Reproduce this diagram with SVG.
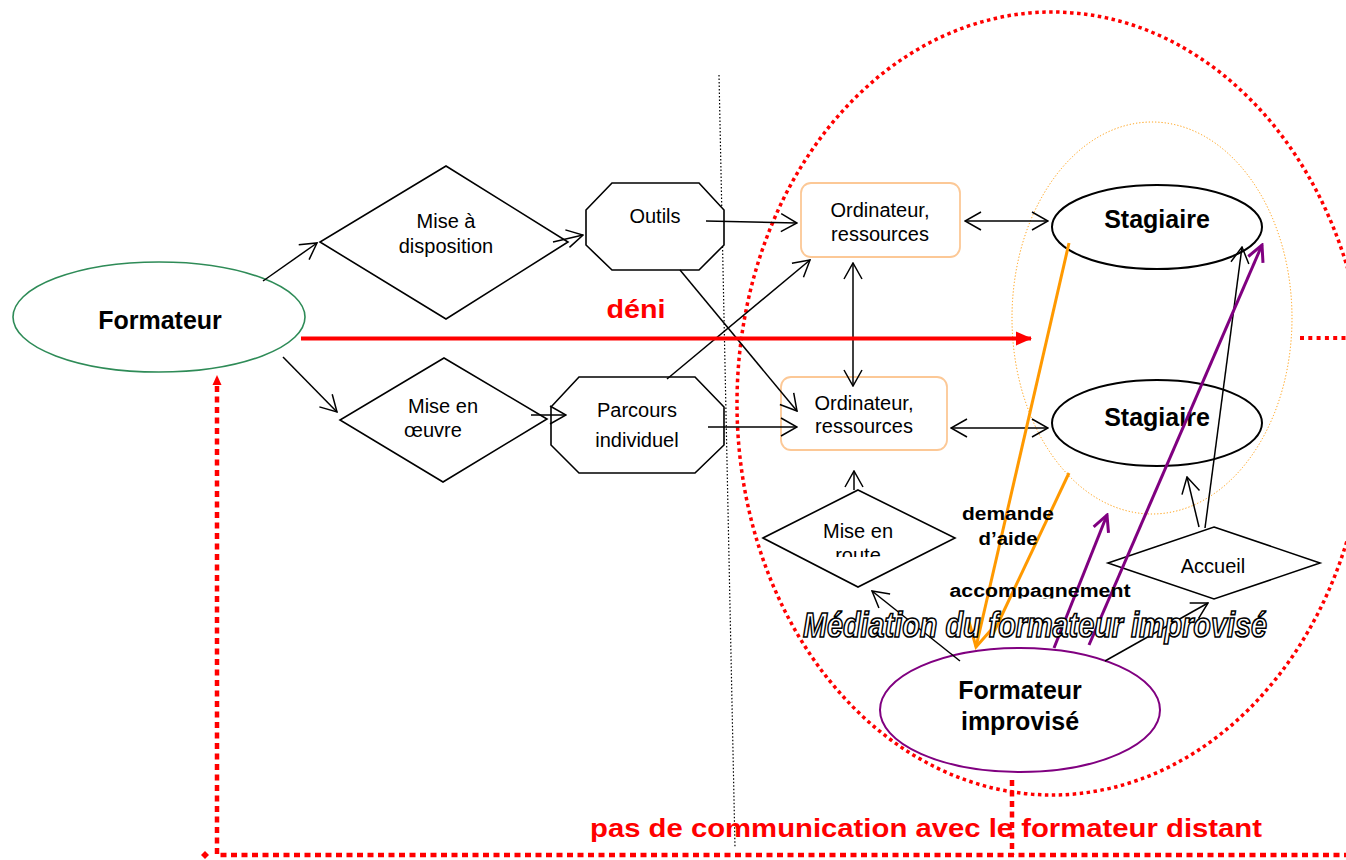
<svg xmlns="http://www.w3.org/2000/svg" width="1346" height="860" viewBox="0 0 1346 860">
<style>
.t{font-family:"Liberation Sans",Arial,sans-serif;font-size:20px;text-anchor:middle;fill:#000}
.b{font-family:"Liberation Sans",Arial,sans-serif;font-size:25px;font-weight:bold;text-anchor:middle;fill:#000}
.lbl{font-family:"Liberation Sans",Arial,sans-serif;font-size:18px;font-weight:bold;text-anchor:middle;fill:#000}
.red{font-family:"Liberation Sans",Arial,sans-serif;font-weight:bold;fill:#ff0000}
.shape{fill:#fff;stroke:#000;stroke-width:1.6}
.box{fill:#fff;stroke:#fcc896;stroke-width:1.8}
.ln{fill:none;stroke:#000;stroke-width:1.5}
.ln2{fill:none;stroke:#000;stroke-width:1.5;marker-end:url(#ah);marker-start:url(#ah)}
.lnA{fill:none;stroke:#000;stroke-width:1.5;marker-end:url(#ah)}
.pur{fill:none;stroke:#800080;stroke-width:3}
.ora{fill:none;stroke:#ff9900;stroke-width:3}
.rdot{fill:none;stroke:#ff0000;stroke-width:4.5;stroke-dasharray:6 4.5}
</style>
<defs>
<marker id="ah" markerUnits="userSpaceOnUse" viewBox="0 0 18 20" markerWidth="18" markerHeight="20" refX="17" refY="10" orient="auto-start-reverse">
<path d="M1,1 L17,10 L1,19" fill="none" stroke="#000" stroke-width="1.5"/>
</marker>
<marker id="ahP" markerUnits="userSpaceOnUse" viewBox="0 0 20 20" markerWidth="20" markerHeight="20" refX="18" refY="10" orient="auto">
<path d="M2,2 L18,10 L2,18" fill="none" stroke="#800080" stroke-width="3"/>
</marker>
<marker id="ahO" markerUnits="userSpaceOnUse" viewBox="0 0 30 30" markerWidth="30" markerHeight="30" refX="27" refY="15" orient="auto">
<path d="M3,2 L27,15 L3,28" fill="none" stroke="#ff9900" stroke-width="3"/>
</marker>
<marker id="ahR" markerUnits="userSpaceOnUse" viewBox="0 0 16 16" markerWidth="16" markerHeight="16" refX="15" refY="8" orient="auto">
<path d="M0,1 L16,8 L0,15 Z" fill="#ff0000"/>
</marker>
<clipPath id="clipRoute"><rect x="800" y="500" width="120" height="57"/></clipPath>
<clipPath id="clipAcc"><rect x="900" y="560" width="260" height="38.5"/></clipPath>
</defs>
<rect width="1346" height="860" fill="#fff"/>

<!-- background zones -->
<g id="zone-mediation">
<ellipse cx="1052" cy="403.5" rx="315" ry="391.5" fill="none" stroke="#ff0000" stroke-width="3.5" stroke-dasharray="3.5 3.5"/>
</g>
<g id="zone-stagiaires">
<ellipse cx="1152" cy="318" rx="140" ry="196" fill="none" stroke="#ff9900" stroke-width="1" stroke-dasharray="1.2 2"/>
</g>
<g id="divider">
<line x1="719" y1="75" x2="735" y2="848" stroke="#000" stroke-width="1.2" stroke-dasharray="1.5 2"/>
</g>

<!-- nodes -->
<g id="formateur">
<ellipse cx="159" cy="317" rx="146" ry="55" fill="#fff" stroke="#2e8b57" stroke-width="1.6"/>
<text class="b" x="160" y="329">Formateur</text>
</g>
<g id="mise-a-disposition">
<polygon class="shape" points="446,166 568,242 446,319 320,242"/>
<text class="t" x="446" y="228">Mise à</text>
<text class="t" x="446" y="253">disposition</text>
</g>
<g id="outils">
<polygon class="shape" points="612,183 699,183 724,210 724,245 699,270 612,270 586,245 586,210"/>
<text class="t" x="655" y="223">Outils</text>
</g>
<g id="mise-en-oeuvre">
<polygon class="shape" points="444,358 547,419 443,482 340,420"/>
<text class="t" x="443" y="413">Mise en</text>
<text class="t" x="433" y="437">œuvre</text>
</g>
<g id="parcours">
<polygon class="shape" points="579,377 695,377 724,407 724,445 695,473 579,473 551,445 551,407"/>
<text class="t" x="637" y="417">Parcours</text>
<text class="t" x="637" y="447">individuel</text>
</g>
<g id="ordinateur-1">
<rect class="box" x="801" y="183" width="159" height="74" rx="10"/>
<text class="t" x="880" y="217">Ordinateur,</text>
<text class="t" x="880" y="241">ressources</text>
</g>
<g id="ordinateur-2">
<rect class="box" x="781" y="377" width="166" height="73" rx="10"/>
<text class="t" x="864" y="410">Ordinateur,</text>
<text class="t" x="864" y="433">ressources</text>
</g>
<g id="stagiaire-1">
<ellipse cx="1157" cy="227" rx="105" ry="42" fill="#fff" stroke="#000" stroke-width="2"/>
<text class="b" x="1157" y="228">Stagiaire</text>
</g>
<g id="stagiaire-2">
<ellipse cx="1157" cy="423" rx="105" ry="43" fill="#fff" stroke="#000" stroke-width="2"/>
<text class="b" x="1157" y="426">Stagiaire</text>
</g>
<g id="mise-en-route">
<polygon class="shape" points="858,490 955,538 858,587 763,538"/>
<text class="t" x="858" y="538">Mise en</text>
<text class="t" x="858" y="562" clip-path="url(#clipRoute)">route</text>
</g>
<g id="accueil">
<polygon class="shape" points="1214,527 1320,563 1214,599 1108,563"/>
<text class="t" x="1213" y="573">Accueil</text>
</g>
<g id="formateur-improvise">
<ellipse cx="1020" cy="710" rx="140" ry="62" fill="#fff" stroke="#800080" stroke-width="2"/>
<text class="b" x="1020" y="699">Formateur</text>
<text class="b" x="1020" y="730">improvisé</text>
</g>

<!-- connectors -->
<g id="connectors">
<line class="lnA" x1="263" y1="281" x2="317" y2="243"/>
<line class="lnA" x1="553" y1="242" x2="583" y2="235"/>
<line class="lnA" x1="283" y1="357" x2="337" y2="412"/>
<line class="lnA" x1="531" y1="415" x2="566" y2="415"/>
<line class="lnA" x1="706" y1="221" x2="797" y2="223"/>
<line class="lnA" x1="680" y1="270" x2="797" y2="411"/>
<line class="lnA" x1="667" y1="379" x2="810" y2="260"/>
<line class="lnA" x1="708" y1="427" x2="797" y2="427"/>
<line class="ln2" x1="853" y1="263" x2="853" y2="386"/>
<line class="ln2" x1="965" y1="221" x2="1048" y2="221"/>
<line class="ln2" x1="951" y1="428" x2="1048" y2="428"/>
<line class="lnA" x1="854" y1="490" x2="854" y2="471"/>
<line class="lnA" x1="960" y1="661" x2="872" y2="591"/>
<line class="lnA" x1="1105" y1="661" x2="1208" y2="603"/>
<line class="lnA" x1="1199" y1="527" x2="1187" y2="477"/>
<line class="lnA" x1="1205" y1="528" x2="1242" y2="247"/>
<line class="ora" x1="1069" y1="243" x2="976" y2="647" marker-end="url(#ahO)"/>
<line class="ora" x1="1069" y1="473" x2="992" y2="636"/>
<line class="pur" x1="1054" y1="648" x2="1107" y2="515" marker-end="url(#ahP)"/>
<line class="pur" x1="1089" y1="645" x2="1262" y2="245" marker-end="url(#ahP)"/>
<line x1="301" y1="338.5" x2="1031" y2="338.5" stroke="#ff0000" stroke-width="4" marker-end="url(#ahR)"/>
<line x1="1300" y1="338" x2="1346" y2="338" stroke="#ff0000" stroke-width="4" stroke-dasharray="4 4.3"/>
<path class="rdot" d="M217,386 L217,855 L1346,855"/>
<polygon points="217,375 212.5,385 221.5,385" fill="#ff0000"/>
<polygon points="205,851 209,855 205,859 201,855" fill="#ff0000"/>
<line class="rdot" x1="1012" y1="780" x2="1012" y2="855"/>
<text class="red" x="636" y="318" font-size="26" text-anchor="middle" textLength="59" lengthAdjust="spacingAndGlyphs">déni</text>
<text class="lbl" x="1008" y="520" textLength="92" lengthAdjust="spacingAndGlyphs">demande</text>
<text class="lbl" x="1008" y="545" textLength="59" lengthAdjust="spacingAndGlyphs">d’aide</text>
<text class="lbl" x="1040" y="597" textLength="181" lengthAdjust="spacingAndGlyphs" clip-path="url(#clipAcc)">accompagnement</text>
<text x="803" y="637" font-family="'Liberation Sans',Arial,sans-serif" font-size="35" font-weight="bold" font-style="italic" fill="#fff" stroke="#000" stroke-width="1.7" textLength="464" lengthAdjust="spacingAndGlyphs">Médiation du formateur improvisé</text>
<text class="red" x="590" y="837" font-size="26" textLength="672" lengthAdjust="spacingAndGlyphs">pas de communication avec le formateur distant</text>
</g>
</svg>
